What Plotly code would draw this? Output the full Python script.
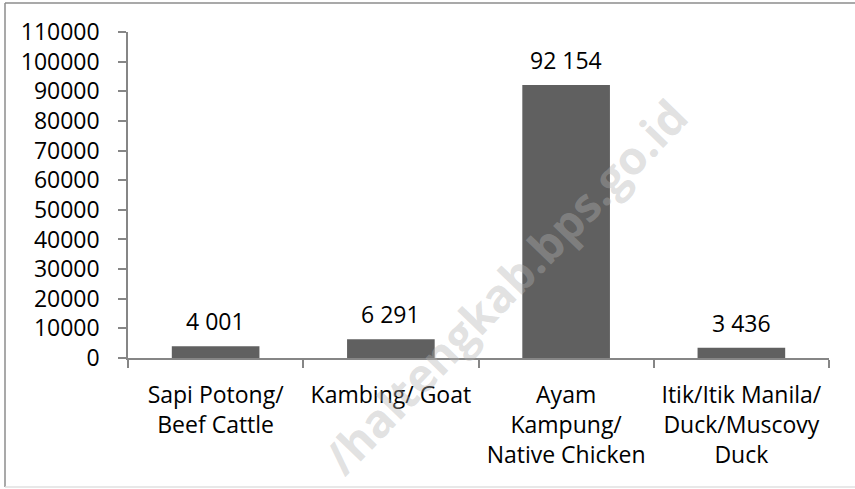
import plotly.graph_objects as go

categories = ["Sapi Potong/<br>Beef Cattle", "Kambing/ Goat",
              "Ayam<br>Kampung/<br>Native Chicken",
              "Itik/Itik Manila/<br>Duck/Muscovy<br>Duck"]
values = [4001, 6291, 92154, 3436]
value_labels = ["4 001", "6 291", "92 154", "3 436"]
y_ticks = list(range(0, 110001, 10000))

FONT = "Open Sans"
FS = 23
W, H = 855, 489
L, R, T, B = 128, 26, 32, 131
pw, ph = W - L - R, H - T - B

def px(x):
    return (x - L) / pw

def py(y):
    return (H - B - y) / ph

fig = go.Figure()
fig.add_trace(go.Bar(x=categories, y=values, marker=dict(color="#606060", line=dict(width=0)),
                     hoverinfo="skip"))

for c, v, t in zip(categories, values, value_labels):
    fig.add_annotation(x=c, y=v, text=t, showarrow=False, yanchor="bottom", yshift=7,
                       font=dict(family=FONT, size=FS, color="#000000"))

# watermark
fig.add_annotation(xref="paper", yref="paper", x=px(505), y=py(286),
                   xanchor="center", yanchor="middle",
                   text="<b>/haltengkab.bps.go.id</b>", showarrow=False, textangle=-46,
                   font=dict(family=FONT, size=46, color="rgba(178,178,178,0.4)"))

# outer border
border = "#8c8c8c"
fig.add_shape(type="line", xref="paper", yref="paper", x0=px(5), x1=px(5), y0=py(3), y1=py(487),
              line=dict(color=border, width=1.5))
fig.add_shape(type="line", xref="paper", yref="paper", x0=px(5), x1=px(860), y0=py(3), y1=py(3),
              line=dict(color=border, width=1.5))
fig.add_shape(type="line", xref="paper", yref="paper", x0=px(5), x1=px(860), y0=py(487), y1=py(487),
              line=dict(color="#e0e0e0", width=1.5))

fig.update_layout(
    width=W, height=H, margin=dict(l=L, r=R, t=T, b=B, autoexpand=False),
    paper_bgcolor="white", plot_bgcolor="white", showlegend=False,
    bargap=0.5,
    font=dict(family=FONT, size=FS, color="#000000"),
    xaxis=dict(showline=True, linecolor="#868686", linewidth=1.5, ticks="outside",
               tickson="boundaries", ticklen=8, tickcolor="#868686", tickwidth=1.5,
               showgrid=False, tickangle=0, automargin=False, ticklabelstandoff=16,
               tickfont=dict(family=FONT, size=FS)),
    yaxis=dict(range=[0, 110000], tickvals=y_ticks, ticktext=[str(v) for v in y_ticks],
               showline=True, linecolor="#868686", linewidth=1.5, ticks="outside",
               ticklen=8, tickcolor="#868686", tickwidth=1.5, showgrid=False,
               zeroline=False, ticklabelstandoff=14, automargin=False,
               tickfont=dict(family=FONT, size=FS)),
)

fig.write_html("out.html", config={"displayModeBar": False},
               post_script="document.body.style.margin='0';")
